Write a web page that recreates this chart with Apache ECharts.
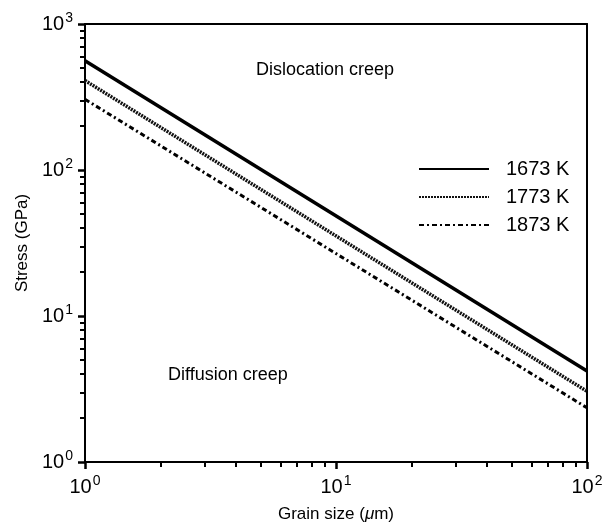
<!DOCTYPE html>
<html>
<head>
<meta charset="utf-8">
<script src="https://cdn.jsdelivr.net/npm/echarts@6/dist/echarts.min.js"></script>
<style>
  html, body { margin: 0; padding: 0; background: #fff; }
  #chart { width: 610px; height: 529px; }
</style>
</head>
<body>
<div id="chart"></div>
<script>
// grain size (um) at the two ends of each line
var grainSize = [1, 100];
// stress at each end
var stress1673 = [560, 4.2];
var stress1773 = [410, 3.05];
var stress1873 = [305, 2.35];
var seriesNames = ['1673 K', '1773 K', '1873 K'];

// minor tick positions for the log axes
var xMinorTicks = [2, 3, 4, 5, 6, 7, 8, 9, 20, 30, 40, 50, 60, 70, 80, 90];
var yMinorTicks = [2, 3, 4, 5, 6, 7, 8, 9, 20, 30, 40, 50, 60, 70, 80, 90,
                   200, 300, 400, 500, 600, 700, 800, 900];

var FONT = '"Liberation Sans", Arial, sans-serif';

function pairs(xs, ys) {
    return xs.map(function(x, i) { return [x, ys[i]]; });
}

// 10^n as rich text
function powLabel(v) {
    var e = Math.round(Math.log(v) / Math.LN10);
    return '{b|10}{s|' + e + '}';
}
var powRich = {
    b: { fontSize: 20, fontFamily: FONT, color: '#000' },
    s: { fontSize: 14, fontFamily: FONT, color: '#000', verticalAlign: 'bottom', padding: [0, 0, 12, 1] }
};

var myChart = echarts.init(document.getElementById('chart'));

var axisLine = { show: true, lineStyle: { color: '#000', width: 2 } };
var noLine = { show: false };
var majorTick = { show: true, length: 7, lineStyle: { color: '#000', width: 2.5 } };

var option = {
    animation: false,
    backgroundColor: '#fff',
    grid: { left: 85, right: 23, top: 24, bottom: 67 },
    legend: {
        data: seriesNames,
        orient: 'vertical',
        left: 413,
        top: 154,
        itemWidth: 70,
        itemHeight: 14,
        itemGap: 8,
        itemStyle: { opacity: 0 },
        textStyle: { fontSize: 20, fontFamily: FONT, color: '#000', padding: [0, 0, 0, 12] }
    },
    xAxis: [{
        type: 'log',
        logBase: 10,
        min: 1,
        max: 100,
        name: 'Grain size ({i|μ}m)',
        nameLocation: 'middle',
        nameGap: 44,
        nameTextStyle: {
            fontSize: 17, fontFamily: FONT, color: '#000',
            rich: { i: { fontSize: 17, fontFamily: FONT, fontStyle: 'italic', color: '#000' } }
        },
        axisLine: axisLine,
        axisTick: majorTick,
        axisLabel: { formatter: powLabel, rich: powRich, margin: 12 },
        splitLine: { show: false }
    }, {
        type: 'log',
        logBase: 10,
        min: 1,
        max: 100,
        position: 'top',
        axisLine: axisLine,
        axisTick: { show: false },
        axisLabel: { show: false },
        splitLine: { show: false }
    }, {
        // minor ticks along the bottom
        type: 'log',
        logBase: 10,
        min: 1,
        max: 100,
        position: 'bottom',
        axisLine: noLine,
        axisTick: { show: true, customValues: xMinorTicks, length: 5, lineStyle: { color: '#000', width: 2 } },
        axisLabel: { show: false },
        splitLine: { show: false }
    }],
    yAxis: [{
        type: 'log',
        logBase: 10,
        min: 1,
        max: 1000,
        name: 'Stress (GPa)',
        nameLocation: 'middle',
        nameGap: 46,
        nameTextStyle: { fontSize: 17, fontFamily: FONT, color: '#000' },
        axisLine: axisLine,
        axisTick: majorTick,
        axisLabel: { formatter: powLabel, rich: powRich, margin: 12 },
        splitLine: { show: false }
    }, {
        type: 'log',
        logBase: 10,
        min: 1,
        max: 1000,
        position: 'right',
        axisLine: axisLine,
        axisTick: { show: false },
        axisLabel: { show: false },
        splitLine: { show: false }
    }, {
        // minor ticks along the left
        type: 'log',
        logBase: 10,
        min: 1,
        max: 1000,
        position: 'left',
        axisLine: noLine,
        axisTick: { show: true, customValues: yMinorTicks, length: 5, lineStyle: { color: '#000', width: 2 } },
        axisLabel: { show: false },
        splitLine: { show: false }
    }],
    graphic: [{
        type: 'text',
        left: 256,
        top: 61,
        style: { text: 'Dislocation creep', fontSize: 18, fontFamily: FONT, fill: '#000' }
    }, {
        type: 'text',
        left: 168,
        top: 366,
        style: { text: 'Diffusion creep', fontSize: 18, fontFamily: FONT, fill: '#000' }
    }],
    series: [{
        name: seriesNames[0],
        type: 'line',
        symbol: 'none',
        data: pairs(grainSize, stress1673),
        lineStyle: { color: '#000', width: 3.5, type: 'solid' },
        itemStyle: { color: '#000' }
    }, {
        name: seriesNames[1],
        type: 'line',
        symbol: 'none',
        data: pairs(grainSize, stress1773),
        lineStyle: { color: '#111', width: 3.5, type: [2, 1] },
        itemStyle: { color: '#111' }
    }, {
        name: seriesNames[2],
        type: 'line',
        symbol: 'none',
        data: pairs(grainSize, stress1873),
        lineStyle: { color: '#000', width: 3, type: [5, 3, 2, 3] },
        itemStyle: { color: '#000' }
    }]
};

myChart.setOption(option);
</script>
</body>
</html>
